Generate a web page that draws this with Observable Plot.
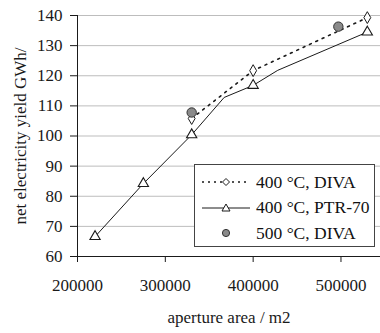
<!DOCTYPE html>
<html>
<head>
<meta charset="utf-8">
<script src="https://cdn.jsdelivr.net/npm/d3@7"></script>
<script src="https://cdn.jsdelivr.net/npm/@observablehq/plot@0.6"></script>
<style>
  html, body { margin: 0; padding: 0; background: #fff; }
  #wrap { position: relative; width: 380px; height: 333px; font-family: "Liberation Serif", "Times New Roman", serif; }
  #wrap svg, #wrap svg text { font-family: "Liberation Serif", "Times New Roman", serif !important; }
  #legend { position: absolute; left: 194px; top: 164px; width: 179px; height: 81px; border: 1px solid #444; background: #fff; box-sizing: content-box; }
  .row { position: absolute; left: 0; height: 26px; display: flex; align-items: center; font-size: 17.5px; color: #111; white-space: nowrap; font-family: "Liberation Serif", "Times New Roman", serif; }
  .row svg { margin-left: 7px; margin-right: 6px; }
</style>
</head>
<body>
<div id="wrap"></div>
<script>
// ---- data ----
const xTicks = [200000, 300000, 400000, 500000];
const yTicks = [60, 70, 80, 90, 100, 110, 120, 130, 140];

// 400 °C, PTR-70 (markers)
const ptrArea  = [220000, 275000, 330000, 400000, 530000];
const ptrYield = [66.6, 84.2, 100.4, 116.8, 134.5];
// PTR-70 line vertices (incl. unmarked bends)
const ptrLineArea  = [220000, 275000, 330000, 367000, 400000, 428000, 530000];
const ptrLineYield = [66.6, 84.2, 100.4, 112.8, 116.8, 121.8, 134.5];

// 400 °C, DIVA
const diva400Area  = [330000, 400000, 530000];
const diva400Yield = [105.8, 121.7, 139.3];

// 500 °C, DIVA
const diva500Area  = [330000, 497000];
const diva500Yield = [107.8, 136.3];

const legendLabels = ["400 °C, DIVA", "400 °C, PTR-70", "500 °C, DIVA"];

const zip = (xs, ys) => xs.map((x, i) => ({x, y: ys[i]}));
const ptr = zip(ptrArea, ptrYield);
const ptrLine = zip(ptrLineArea, ptrLineYield);
const d400 = zip(diva400Area, diva400Yield);
const d500 = zip(diva500Area, diva500Yield);

const ink = "#1a1a1a";
const serif = "'Liberation Serif', 'Times New Roman', serif";

const chart = Plot.plot({
  width: 380,
  height: 333,
  marginLeft: 77,
  marginRight: 0,
  marginTop: 15,
  marginBottom: 77,
  style: { fontFamily: serif, fontSize: "17px", color: ink, background: "#fff" },
  x: { domain: [200000, 545000], ticks: xTicks },
  y: { domain: [60, 140], ticks: yTicks },
  marks: [
    Plot.gridY(yTicks, { stroke: "#bdbdbd", strokeOpacity: 1, strokeWidth: 1 }),
    Plot.axisX({ ticks: xTicks, tickSize: 6, tickPadding: 16, tickFormat: d => String(d), stroke: ink,
      label: "aperture area / m2", labelAnchor: "center", labelArrow: "none", labelOffset: 66 }),
    Plot.axisY({ ticks: yTicks, tickSize: 7, tickPadding: 8, stroke: ink,
      label: "net electricity yield GWh/", labelAnchor: "center", labelArrow: "none", labelOffset: 64 }),
    Plot.ruleX([200000], { stroke: ink }),
    Plot.ruleY([60], { stroke: ink }),
    Plot.line(d400, { x: "x", y: "y", stroke: ink, strokeWidth: 1.6, strokeDasharray: "2,5" }),
    Plot.line(ptrLine, { x: "x", y: "y", stroke: ink, strokeWidth: 1 }),
    Plot.dot(d400, { x: "x", y: "y", symbol: "diamond", r: 3.6, fill: "#fff", stroke: ink, strokeWidth: 1 }),
    Plot.dot(ptr, { x: "x", y: "y", symbol: "triangle", r: 3.8, fill: "#fff", stroke: ink, strokeWidth: 1.1 }),
    Plot.dot(d500, { x: "x", y: "y", symbol: "circle", r: 4.7, fill: "#8a8a8a", stroke: "#333", strokeWidth: 1 })
  ]
});

const wrap = document.getElementById("wrap");
wrap.appendChild(chart);

// legend (HTML overlay)
const legend = document.createElement("div");
legend.id = "legend";
const samples = [
  `<svg width="48" height="12"><line x1="0" y1="6" x2="48" y2="6" stroke="${ink}" stroke-width="1.6" stroke-dasharray="2,4"/><path d="M24,2.5L27.5,6L24,9.5L20.5,6Z" fill="#fff" stroke="${ink}"/></svg>`,
  `<svg width="48" height="12"><line x1="0" y1="6" x2="48" y2="6" stroke="${ink}" stroke-width="1"/><path d="M24,2L28,9L20,9Z" fill="#fff" stroke="${ink}"/></svg>`,
  `<svg width="48" height="12"><circle cx="24" cy="6" r="3.6" fill="#8a8a8a" stroke="#333"/></svg>`
];
legendLabels.forEach((lab, i) => {
  const row = document.createElement("div");
  row.className = "row";
  row.style.top = (4 + i * 25.5) + "px";
  row.innerHTML = samples[i] + "<span>" + lab + "</span>";
  legend.appendChild(row);
});
wrap.appendChild(legend);
</script>
</body>
</html>
